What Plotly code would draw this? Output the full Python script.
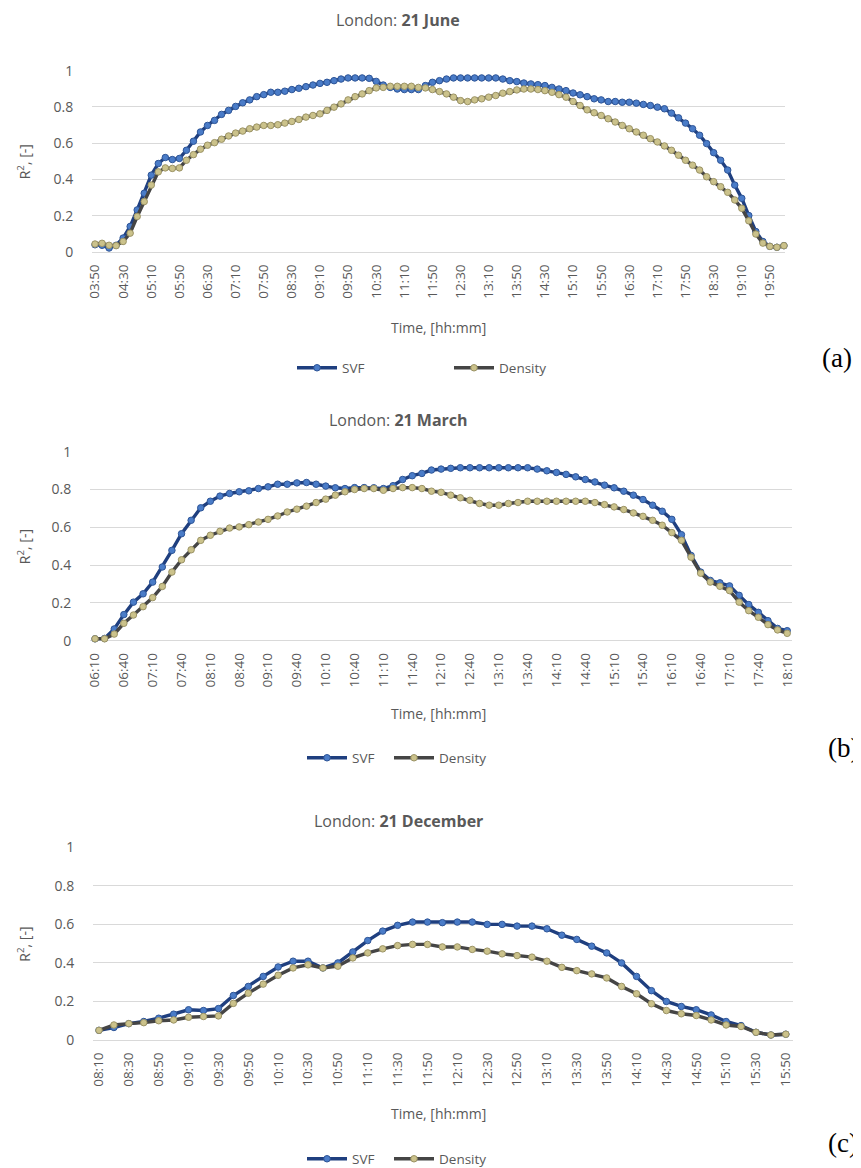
import plotly.graph_objects as go

# The page body adds an 8 px margin, so the figure is drawn 8 px smaller and
# every target position below is given in screen pixels and shifted by OFF.
OFF = 8
W, H = 861 - OFF, 1168 - OFF


def slots(start, end):
    h, m = map(int, start.split(":"))
    eh, em = map(int, end.split(":"))
    t, te = h * 60 + m, eh * 60 + em
    out = []
    while t <= te:
        out.append(f"{t // 60:02d}:{t % 60:02d}")
        t += 10
    return out


# ---------------- data ----------------
june_times = slots("03:50", "20:10")
june_svf = [0.04, 0.037, 0.022, 0.037, 0.077, 0.141, 0.232, 0.324, 0.424, 0.488,
            0.521, 0.51, 0.516, 0.561, 0.611, 0.662, 0.698, 0.726, 0.759, 0.781,
            0.803, 0.823, 0.839, 0.857, 0.868, 0.881, 0.881, 0.887, 0.896, 0.903,
            0.912, 0.921, 0.93, 0.936, 0.945, 0.954, 0.96, 0.96, 0.96, 0.958,
            0.941, 0.921, 0.908, 0.899, 0.896, 0.896, 0.896, 0.918, 0.936, 0.945,
            0.954, 0.96, 0.96, 0.96, 0.96, 0.96, 0.96, 0.96, 0.954, 0.945,
            0.94, 0.932, 0.927, 0.923, 0.918, 0.908, 0.899, 0.89, 0.877, 0.867,
            0.857, 0.845, 0.839, 0.83, 0.83, 0.826, 0.826, 0.821, 0.814, 0.808,
            0.799, 0.79, 0.766, 0.74, 0.711, 0.68, 0.644, 0.598, 0.548, 0.506,
            0.452, 0.369, 0.296, 0.201, 0.113, 0.058, 0.031, 0.026, 0.035]
june_density = [0.044, 0.048, 0.037, 0.035, 0.058, 0.104, 0.196, 0.278, 0.369, 0.442,
                0.464, 0.461, 0.464, 0.506, 0.537, 0.567, 0.589, 0.603, 0.622, 0.64,
                0.656, 0.667, 0.68, 0.689, 0.698, 0.698, 0.702, 0.711, 0.72, 0.731,
                0.744, 0.753, 0.762, 0.781, 0.799, 0.817, 0.839, 0.857, 0.872, 0.89,
                0.905, 0.908, 0.914, 0.914, 0.914, 0.914, 0.908, 0.905, 0.896, 0.885,
                0.872, 0.854, 0.835, 0.83, 0.839, 0.845, 0.854, 0.863, 0.876, 0.885,
                0.894, 0.899, 0.899, 0.896, 0.89, 0.881, 0.868, 0.854, 0.83, 0.808,
                0.784, 0.768, 0.753, 0.735, 0.717, 0.698, 0.68, 0.662, 0.644, 0.625,
                0.607, 0.585, 0.561, 0.534, 0.506, 0.479, 0.452, 0.415, 0.388, 0.36,
                0.329, 0.287, 0.241, 0.172, 0.099, 0.049, 0.031, 0.026, 0.035]
june_ticks = ["03:50", "04:30", "05:10", "05:50", "06:30", "07:10", "07:50", "08:30",
              "09:10", "09:50", "10:30", "11:10", "11:50", "12:30", "13:10", "13:50",
              "14:30", "15:10", "15:50", "16:30", "17:10", "17:50", "18:30", "19:10",
              "19:50"]

march_times = slots("06:10", "18:10")
march_svf = [0.01, 0.012, 0.062, 0.138, 0.204, 0.248, 0.31, 0.39, 0.478, 0.566,
             0.637, 0.703, 0.738, 0.765, 0.779, 0.788, 0.793, 0.805, 0.814, 0.828,
             0.828, 0.835, 0.837, 0.828, 0.818, 0.809, 0.805, 0.81, 0.81, 0.809,
             0.805, 0.82, 0.853, 0.873, 0.885, 0.903, 0.908, 0.912, 0.915, 0.915,
             0.915, 0.915, 0.915, 0.915, 0.915, 0.915, 0.908, 0.899, 0.89, 0.88,
             0.867, 0.853, 0.84, 0.823, 0.809, 0.791, 0.77, 0.747, 0.717, 0.685,
             0.642, 0.561, 0.451, 0.363, 0.319, 0.306, 0.29, 0.24, 0.191, 0.15,
             0.106, 0.065, 0.053]
march_density = [0.01, 0.01, 0.035, 0.092, 0.136, 0.18, 0.228, 0.287, 0.363, 0.428,
                 0.481, 0.531, 0.558, 0.579, 0.596, 0.602, 0.614, 0.628, 0.642, 0.66,
                 0.681, 0.696, 0.712, 0.731, 0.749, 0.77, 0.788, 0.80, 0.805, 0.805,
                 0.796, 0.805, 0.81, 0.81, 0.805, 0.791, 0.785, 0.77, 0.756, 0.743,
                 0.726, 0.717, 0.717, 0.726, 0.731, 0.738, 0.738, 0.738, 0.738, 0.738,
                 0.738, 0.738, 0.731, 0.72, 0.708, 0.694, 0.676, 0.658, 0.637, 0.611,
                 0.572, 0.531, 0.442, 0.357, 0.31, 0.288, 0.265, 0.204, 0.159, 0.124,
                 0.085, 0.057, 0.039]
march_ticks = ["06:10", "06:40", "07:10", "07:40", "08:10", "08:40", "09:10", "09:40",
               "10:10", "10:40", "11:10", "11:40", "12:10", "12:40", "13:10", "13:40",
               "14:10", "14:40", "15:10", "15:40", "16:10", "16:40", "17:10", "17:40",
               "18:10"]

dec_times = slots("08:10", "15:50")
dec_svf = [0.05, 0.065, 0.085, 0.096, 0.113, 0.134, 0.157, 0.153, 0.163, 0.231,
           0.278, 0.33, 0.379, 0.409, 0.409, 0.374, 0.40, 0.457, 0.516, 0.565,
           0.595, 0.612, 0.612, 0.609, 0.612, 0.612, 0.60, 0.60, 0.591, 0.591,
           0.577, 0.544, 0.522, 0.487, 0.452, 0.40, 0.33, 0.256, 0.20, 0.174,
           0.157, 0.13, 0.096, 0.075, 0.04, 0.026, 0.03]
dec_density = [0.05, 0.078, 0.085, 0.09, 0.10, 0.104, 0.118, 0.122, 0.125, 0.19,
               0.243, 0.29, 0.336, 0.374, 0.39, 0.374, 0.383, 0.426, 0.452, 0.473,
               0.49, 0.496, 0.496, 0.483, 0.483, 0.47, 0.461, 0.447, 0.438, 0.43,
               0.409, 0.377, 0.36, 0.343, 0.322, 0.278, 0.24, 0.188, 0.153, 0.136,
               0.127, 0.104, 0.078, 0.07, 0.04, 0.026, 0.03]
dec_ticks = ["08:10", "08:30", "08:50", "09:10", "09:30", "09:50", "10:10", "10:30",
             "10:50", "11:10", "11:30", "11:50", "12:10", "12:30", "12:50", "13:10",
             "13:30", "13:50", "14:10", "14:30", "14:50", "15:10", "15:30", "15:50"]

y_ticks = [0, 0.2, 0.4, 0.6, 0.8, 1]
y_labels = ["0", "0.2", "0.4", "0.6", "0.8", "1"]
series_names = ["SVF", "Density"]

# ---------------- style ----------------
FONT = "Open Sans"
TXT = "#595959"
GRID = "#D9D9D9"
LINE_COLORS = ["#1F3F7F", "#454545"]
MK_COLORS = ["#4A7CC8", "#CBC28B"]
MK_EDGES = ["#2E5597", "#9B9365"]


def px_x(p):
    return (p - OFF) / W


def px_y(p):
    return 1 - (p - OFF) / H


panels = [
    dict(times=june_times, series=[june_svf, june_density], ticks=june_ticks,
         title="London: <b>21 June</b>", xd=(92, 785), yd=(70.7, 252),
         xr=(-0.43, 98.15), title_y=20, xt_y=327, leg_y=368, leg_x=(292, 449),
         tag="(a)", tag_x=837, tag_y=358),
    dict(times=march_times, series=[march_svf, march_density], ticks=march_ticks,
         title="London: <b>21 March</b>", xd=(90, 792), yd=(451.7, 640.7),
         xr=(-0.52, 72.5), title_y=420, xt_y=713, leg_y=758, leg_x=(302, 389),
         tag="(b)", tag_x=843, tag_y=748),
    dict(times=dec_times, series=[dec_svf, dec_density], ticks=dec_ticks,
         title="London: <b>21 December</b>", xd=(93, 793), yd=(847.3, 1040),
         xr=(-0.4, 46.48), title_y=821, xt_y=1113, leg_y=1159, leg_x=(302, 389),
         tag="(c)", tag_x=843, tag_y=1143),
]

fig = go.Figure()
annotations = []
layout = dict(
    width=W, height=H, showlegend=True,
    margin=dict(l=0, r=0, t=0, b=0, pad=0, autoexpand=False),
    paper_bgcolor="white", plot_bgcolor="white",
    font=dict(family=FONT, color=TXT, size=13),
)

leg_count = 0
for k, p in enumerate(panels, start=1):
    sfx = "" if k == 1 else str(k)
    xa, ya = "x" + sfx, "y" + sfx
    for s, (name, vals) in enumerate(zip(series_names, p["series"])):
        leg_count += 1
        leg = "legend" if leg_count == 1 else f"legend{leg_count}"
        fig.add_trace(go.Scatter(
            x=p["times"], y=vals, name=name, mode="lines+markers",
            xaxis=xa, yaxis=ya, legend=leg, cliponaxis=False, showlegend=True,
            line=dict(color=LINE_COLORS[s], width=3.4),
            marker=dict(size=6.5, color=MK_COLORS[s],
                        line=dict(color=MK_EDGES[s], width=1)),
        ))
        layout[leg] = dict(
            visible=True, orientation="h", x=px_x(p["leg_x"][s]), xanchor="left",
            y=px_y(p["leg_y"]), yanchor="middle",
            font=dict(size=13.5, color=TXT, family=FONT),
            itemwidth=40, bgcolor="rgba(0,0,0,0)",
        )
    layout["xaxis" + sfx] = dict(
        type="category", domain=[px_x(p["xd"][0]), px_x(p["xd"][1])],
        anchor=ya, range=list(p["xr"]), automargin=False,
        tickmode="array", tickvals=p["ticks"], ticktext=p["ticks"],
        tickangle=-90, tickfont=dict(size=13.5, color=TXT, family=FONT),
        ticks="outside", ticklen=6, tickcolor="rgba(0,0,0,0)",
        showgrid=False, showline=False, zeroline=False, fixedrange=True,
    )
    layout["yaxis" + sfx] = dict(
        domain=[px_y(p["yd"][1]), px_y(p["yd"][0])], anchor=xa, automargin=False,
        range=[0, 1], tickmode="array", tickvals=y_ticks, ticktext=y_labels,
        tickfont=dict(size=14, color=TXT, family=FONT),
        ticks="outside", ticklen=15, tickcolor="rgba(0,0,0,0)",
        showgrid=True, gridcolor=GRID, gridwidth=1.2,
        zeroline=True, zerolinecolor=GRID, zerolinewidth=1.2,
        showline=False, fixedrange=True,
    )
    ymid = (p["yd"][0] + p["yd"][1]) / 2
    annotations += [
        dict(text=p["title"], x=px_x(398), y=px_y(p["title_y"]), xref="paper", yref="paper",
             xanchor="center", yanchor="middle", showarrow=False,
             font=dict(size=16, color=TXT, family=FONT)),
        dict(text="Time, [hh:mm]", x=px_x(438), y=px_y(p["xt_y"]), xref="paper", yref="paper",
             xanchor="center", yanchor="middle", showarrow=False,
             font=dict(size=14, color=TXT, family=FONT)),
        dict(text="R<sup>2</sup>, [-]", x=px_x(24), y=px_y(ymid), xref="paper", yref="paper",
             xanchor="center", yanchor="middle", showarrow=False, textangle=-90,
             font=dict(size=14, color=TXT, family=FONT)),
        dict(text=p["tag"], x=px_x(p["tag_x"]), y=px_y(p["tag_y"]), xref="paper", yref="paper",
             xanchor="center", yanchor="middle", showarrow=False,
             font=dict(size=27, color="black", family="Liberation Serif")),
    ]

layout["annotations"] = annotations
fig.update_layout(**layout)
fig.write_html("out.html")
